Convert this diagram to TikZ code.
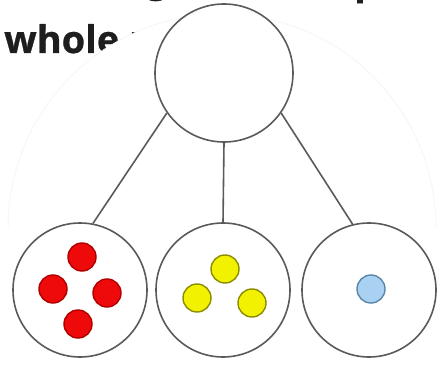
\documentclass[tikz,border=0pt]{standalone}
\usepackage{fontspec}
\setmainfont{Open Sans}
\newfontfamily\headfont[FakeBold=0.8]{Open Sans Bold}
\definecolor{ink}{HTML}{1E1E1E}
\definecolor{edge}{HTML}{5A5A5A}
\definecolor{redf}{HTML}{EE0A0A}
\definecolor{redd}{HTML}{B00000}
\definecolor{yelf}{HTML}{F2F200}
\definecolor{yeld}{HTML}{8C8C00}
\definecolor{bluf}{HTML}{A9D2F2}
\definecolor{blud}{HTML}{5A86AA}
\begin{document}
\begin{tikzpicture}[x=1pt,y=-1pt,
  bigc/.style={circle,draw=edge,line width=1.6pt,fill=white,minimum size=#1,inner sep=0pt},
  dot/.style={circle,line width=1.4pt,minimum size=28pt,inner sep=0pt},
  reddot/.style={dot,draw=redd,fill=redf},
  yeldot/.style={dot,draw=yeld,fill=yelf},
  bludot/.style={dot,draw=blud,fill=bluf},
  title/.style={font=\headfont\fontsize{38}{44}\selectfont,text=ink,inner sep=0pt,anchor=base west},
  link/.style={draw=edge,line width=1.6pt}]
\useasboundingbox (0,0) rectangle (444,366);
% partly hidden title text
\node[title] (g) at (146,-8) {g};
\node[title] (p) at (354,-6) {p};
\node[title] (w) at (4,53) {whole n};
% white backdrop of the pasted picture
\fill[white] (8,228) arc[start angle=180,end angle=360,radius=214] -- (436,366) -- (8,366) -- cycle;
\draw[gray!12,densely dotted,line width=1pt] (8,228) arc[start angle=180,end angle=360,radius=214];
% circles
\node[bigc=138pt] (top) at (224,73) {};
\node[bigc=134pt] (L) at (80,290) {};
\node[bigc=134pt] (M) at (223,290) {};
\node[bigc=134pt] (R) at (369,290) {};
% connectors
\draw[link] (top.-145) -- (L.79);
\draw[link] (top.south) -- (M.north);
\draw[link] (top.-35) -- (R.104);
% dots
\node[reddot] (r1) at (82,257) {};
\node[reddot] (r2) at (53,289) {};
\node[reddot] (r3) at (107,293) {};
\node[reddot] (r4) at (78,324) {};
\node[yeldot] (y1) at (225,269) {};
\node[yeldot] (y2) at (197,298) {};
\node[yeldot] (y3) at (252,303) {};
\node[bludot] (b1) at (371,289) {};
\end{tikzpicture}
\end{document}
